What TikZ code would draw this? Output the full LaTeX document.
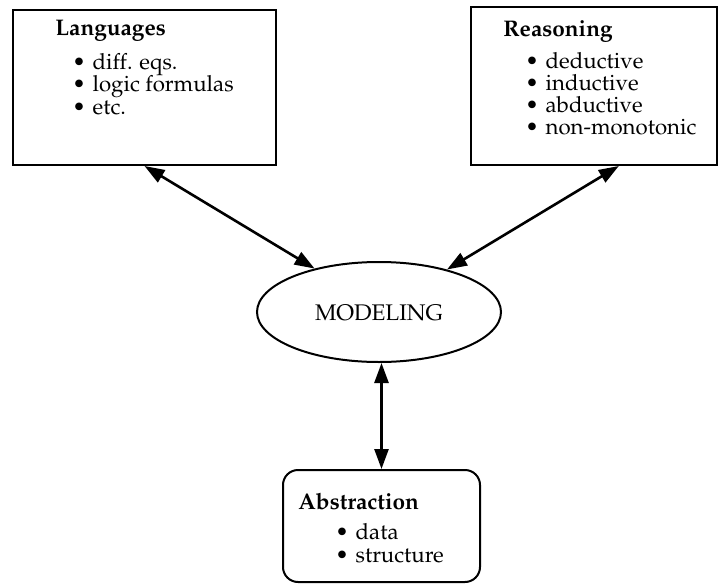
\documentclass[tikz,border=0pt]{standalone}
\usepackage[T1]{fontenc}
\usepackage{mathpazo}
\usetikzlibrary{arrows.meta,shapes.geometric,fit}

\tikzset{
  frame/.style={draw, line width=1pt, inner sep=0pt, rectangle},
  softframe/.style={frame, rounded corners=7.5pt},
  blob/.style={draw, line width=1pt, ellipse, inner sep=0pt,
               minimum width=122pt, minimum height=50pt},
  txt/.style={inner sep=0pt, anchor=base west, font=\fontsize{11.1}{13}\selectfont},
  head/.style={txt, font=\fontsize{11.3}{13}\selectfont\bfseries},
  link/.style={line width=1.3pt, {Triangle[length=10pt,width=7pt]}-{Triangle[length=10pt,width=7pt]}}
}
\newcommand{\itm}[1]{\textbullet\hspace{3.4pt}#1}

\begin{document}
\begin{tikzpicture}[x=0.5pt, y=-0.5pt]
  \useasboundingbox (0,0) rectangle (719,584);

  % the three surrounding boxes and the central ellipse
  \node[frame, fit={(13,9.5) (276,165)}] (lang) {};
  \node[frame, fit={(471,7) (717,165)}] (reas) {};
  \node[softframe, fit={(283,470) (480,582)}] (abs) {};
  \node[blob] (model) at (379,312) {};
  \node[txt, anchor=center, font=\fontsize{11.3}{13}\selectfont] (modtxt) at (379,313) {MODELING};

  % Languages
  \node[head] (langhead) at (55,35) {Languages};
  \node[txt] (lang1) at (72,69) {\itm{diff. eqs.}};
  \node[txt] (lang2) at (72,91.5) {\itm{logic formulas}};
  \node[txt] (lang3) at (72,114) {\itm{etc.}};

  % Reasoning
  \node[head] (reashead) at (503,36) {Reasoning};
  \node[txt] (reas1) at (525,68) {\itm{deductive}};
  \node[txt] (reas2) at (525,90) {\itm{inductive}};
  \node[txt] (reas3) at (525,112) {\itm{abductive}};
  \node[txt] (reas4) at (525,134) {\itm{non-monotonic}};

  % Abstraction
  \node[head] (abshead) at (298,509) {Abstraction};
  \node[txt] (abs1) at (335,539) {\itm{data}};
  \node[txt] (abs2) at (335,562) {\itm{structure}};

  % connectors
  \path (reas.south west) -- (reas.south east) coordinate[pos=0.6] (reasfoot);
  \draw[link] (lang.south) -- (model.146);
  \draw[link] (reasfoot) -- (model.32);
  \draw[link] (model.south -| abs.north) -- (abs.north);
\end{tikzpicture}
\end{document}
